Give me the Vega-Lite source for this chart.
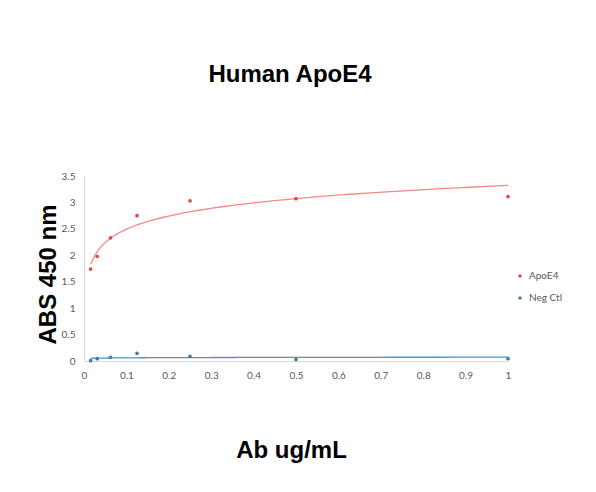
{
  "$schema": "https://vega.github.io/schema/vega-lite/v6.json",
  "width": 424,
  "height": 185,
  "autosize": {"type": "none"},
  "padding": {"left": 84, "top": 176, "right": 88, "bottom": 131},
  "background": "white",
  "title": {
    "text": "Human ApoE4",
    "font": "Liberation Sans",
    "fontSize": 24,
    "fontWeight": "bold",
    "color": "black",
    "anchor": "middle",
    "offset": 84,
    "dx": -6
  },
  "config": {
    "view": {"stroke": null},
    "axis": {
      "grid": false,
      "ticks": false,
      "domainColor": "#d9d9d9",
      "labelFont": "Lato",
      "labelFontSize": 10,
      "labelColor": "#595959",
      "labelFlush": false,
      "labelOverlap": false,
      "titleFont": "Liberation Sans",
      "titleFontSize": 24,
      "titleFontWeight": "bold",
      "titleColor": "black"
    }
  },
  "data": {
    "values": [
      {"series": "ApoE4", "x": 0.015625, "y": 1.74},
      {"series": "ApoE4", "x": 0.03125, "y": 1.98},
      {"series": "ApoE4", "x": 0.0625, "y": 2.33},
      {"series": "ApoE4", "x": 0.125, "y": 2.75},
      {"series": "ApoE4", "x": 0.25, "y": 3.03},
      {"series": "ApoE4", "x": 0.5, "y": 3.07},
      {"series": "ApoE4", "x": 1, "y": 3.11},
      {"series": "Neg Ctl", "x": 0.015625, "y": 0.005},
      {"series": "Neg Ctl", "x": 0.03125, "y": 0.044},
      {"series": "Neg Ctl", "x": 0.0625, "y": 0.07},
      {"series": "Neg Ctl", "x": 0.125, "y": 0.145},
      {"series": "Neg Ctl", "x": 0.25, "y": 0.088},
      {"series": "Neg Ctl", "x": 0.5, "y": 0.03},
      {"series": "Neg Ctl", "x": 1, "y": 0.044}
    ]
  },
  "encoding": {
    "x": {
      "field": "x",
      "type": "quantitative",
      "scale": {"domain": [0, 1], "nice": false},
      "axis": {
        "values": [0, 0.1, 0.2, 0.3, 0.4, 0.5, 0.6, 0.7, 0.8, 0.9, 1],
        "format": "~g",
        "labelPadding": 9,
        "title": "Ab ug/mL",
        "titleX": 207,
        "titleY": 96,
        "titleBaseline": "alphabetic",
        "titleAlign": "center"
      }
    },
    "y": {
      "field": "y",
      "type": "quantitative",
      "scale": {"domain": [0, 3.5], "nice": false},
      "axis": {
        "values": [0, 0.5, 1, 1.5, 2, 2.5, 3, 3.5],
        "format": "~g",
        "labelPadding": 9,
        "title": "ABS 450 nm",
        "titleX": -29,
        "titleY": 98,
        "titleAngle": -90,
        "titleBaseline": "alphabetic",
        "titleAlign": "center"
      }
    }
  },
  "layer": [
    {
      "transform": [
        {"regression": "y", "on": "x", "groupby": ["series"], "method": "log"}
      ],
      "mark": {"type": "line", "strokeWidth": 1.3, "clip": true},
      "encoding": {
        "color": {
          "field": "series",
          "type": "nominal",
          "scale": {"domain": ["ApoE4", "Neg Ctl"], "range": ["#f08a86", "#4f95c4"]},
          "legend": null
        }
      }
    },
    {
      "mark": {"type": "circle", "size": 14, "opacity": 1},
      "encoding": {
        "color": {
          "field": "series",
          "type": "nominal",
          "scale": {"domain": ["ApoE4", "Neg Ctl"], "range": ["#de4b45", "#3a7fb3"]},
          "legend": {
            "title": null,
            "orient": "none",
            "legendX": 431,
            "legendY": 95,
            "symbolType": "circle",
            "symbolSize": 12,
            "labelFont": "Lato",
            "labelFontSize": 10,
            "labelColor": "#595959",
            "rowPadding": 12,
            "labelOffset": 4
          }
        }
      }
    }
  ],
  "resolve": {"scale": {"color": "independent"}}
}
